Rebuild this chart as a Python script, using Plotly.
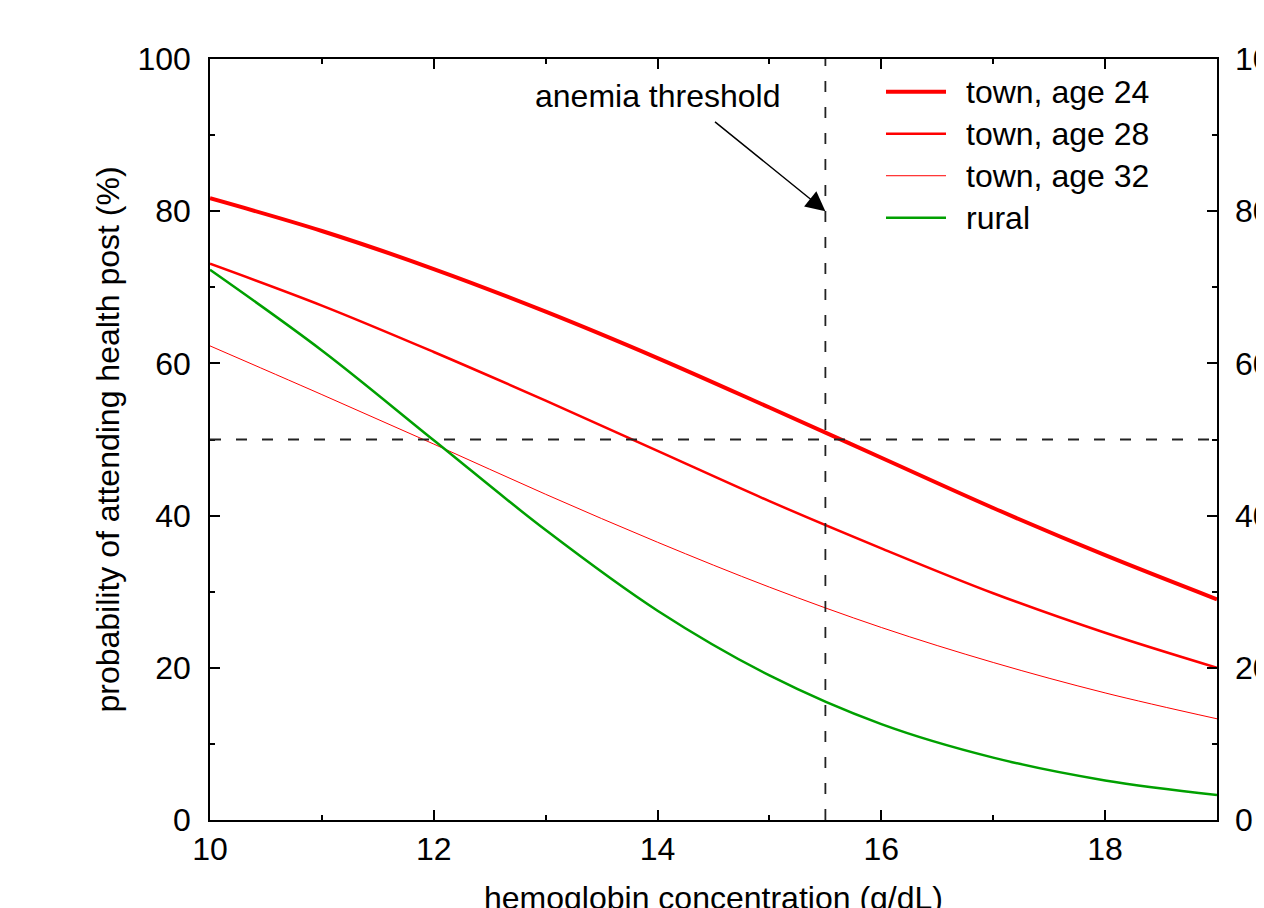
import plotly.graph_objects as go

hemoglobin = [10, 11, 12, 13, 14, 15, 16, 17, 18, 19]
town_24 = [81.7, 77.4, 72.4, 66.8, 60.7, 54.2, 47.6, 41.0, 34.8, 29.0]
town_28 = [73.1, 67.6, 61.5, 55.1, 48.5, 41.9, 35.7, 29.8, 24.6, 20.0]
town_32 = [62.3, 55.9, 49.4, 42.8, 36.5, 30.6, 25.3, 20.7, 16.7, 13.3]
rural = [72.3, 61.7, 49.9, 38.1, 27.5, 19.0, 12.6, 8.2, 5.2, 3.3]

series_names = ["town, age 24", "town, age 28", "town, age 32", "rural"]
series_values = [town_24, town_28, town_32, rural]
series_colors = ["#ff0000", "#ff0000", "#ff0000", "#00a000"]
series_widths = [4, 2.5, 1, 2.5]

anemia_threshold = 15.5
half_probability = 50
x_ticks = [10, 12, 14, 16, 18]
y_ticks = [0, 20, 40, 60, 80, 100]

FONT = "Liberation Sans, Arial, Helvetica, sans-serif"
FS = 32
DASH = "11px,15px"

fig = go.Figure()
for name, vals, col, w in zip(series_names, series_values, series_colors, series_widths):
    fig.add_trace(go.Scatter(x=hemoglobin, y=vals, mode="lines", name=name,
                             line=dict(color=col, width=w, shape="spline", smoothing=1.0),
                             showlegend=False))

# invisible trace to activate right axis
fig.add_trace(go.Scatter(x=[hemoglobin[0]], y=[y_ticks[0]], yaxis="y2", mode="markers",
                         marker=dict(opacity=0), showlegend=False, hoverinfo="skip"))

# threshold dashed lines
fig.add_shape(type="line", x0=anemia_threshold, x1=anemia_threshold, y0=0, y1=100,
              xref="x", yref="y", line=dict(color="#222", width=1.8, dash=DASH))
fig.add_shape(type="line", x0=10, x1=19, y0=half_probability, y1=half_probability,
              xref="x", yref="y", line=dict(color="#222", width=1.8, dash=DASH))

# annotation
fig.add_annotation(x=14.0, y=95.2, xref="x", yref="y", text="anemia threshold",
                   showarrow=False, font=dict(family=FONT, size=FS, color="black"))
fig.add_annotation(x=anemia_threshold, y=80, xref="x", yref="y", ax=14.5, ay=91.9,
                   axref="x", ayref="y", text="", showarrow=True, arrowhead=2,
                   arrowsize=2.6, arrowwidth=1.5, arrowcolor="black", standoff=0)

# manual legend (gnuplot style)
legend_y0 = 0.957
legend_dy = 42 / 761
for i, (name, col, w) in enumerate(zip(series_names, series_colors, series_widths)):
    yy = legend_y0 - i * legend_dy
    fig.add_shape(type="line", xref="paper", yref="paper",
                  x0=(886 - 210) / 1007, x1=(946 - 210) / 1007, y0=yy, y1=yy,
                  line=dict(color=col, width=w))
    fig.add_annotation(xref="paper", yref="paper", x=(964 - 210) / 1007, y=yy,
                       xanchor="left", yanchor="middle", text=name, showarrow=False,
                       font=dict(family=FONT, size=FS, color="black"))

axis_common = dict(showgrid=False, zeroline=False, ticks="inside", ticklen=10,
                   tickwidth=1.5, tickcolor="black", showline=True, linecolor="black",
                   linewidth=1.5, mirror="ticks", automargin=False,
                   tickfont=dict(family=FONT, size=FS, color="black"))

fig.update_layout(
    width=1264, height=908,
    margin=dict(l=202, r=55, t=51, b=96, autoexpand=False),
    paper_bgcolor="white", plot_bgcolor="white",
    font=dict(family=FONT, size=FS, color="black"),
    xaxis=dict(range=[10, 19], tickvals=x_ticks,
               minor=dict(dtick=1, ticks="inside", ticklen=5, tickwidth=1.5, tickcolor="black"),
               title=dict(text="hemoglobin concentration (g/dL)", standoff=32,
                          font=dict(family=FONT, size=FS, color="black")),
               **axis_common),
    yaxis=dict(range=[0, 100], tickvals=y_ticks, ticklabelstandoff=11,
               minor=dict(dtick=10, ticks="inside", ticklen=5, tickwidth=1.5, tickcolor="black"),
               title=dict(text="probability of attending health post (%)", standoff=8,
                          font=dict(family=FONT, size=FS, color="black")),
               **axis_common),
    yaxis2=dict(range=[0, 100], tickvals=y_ticks, overlaying="y", side="right",
                showgrid=False, zeroline=False, ticks="", showline=False,
                ticklabelstandoff=17, automargin=False,
                tickfont=dict(family=FONT, size=FS, color="black")),
)

fig.write_html("out.html")
